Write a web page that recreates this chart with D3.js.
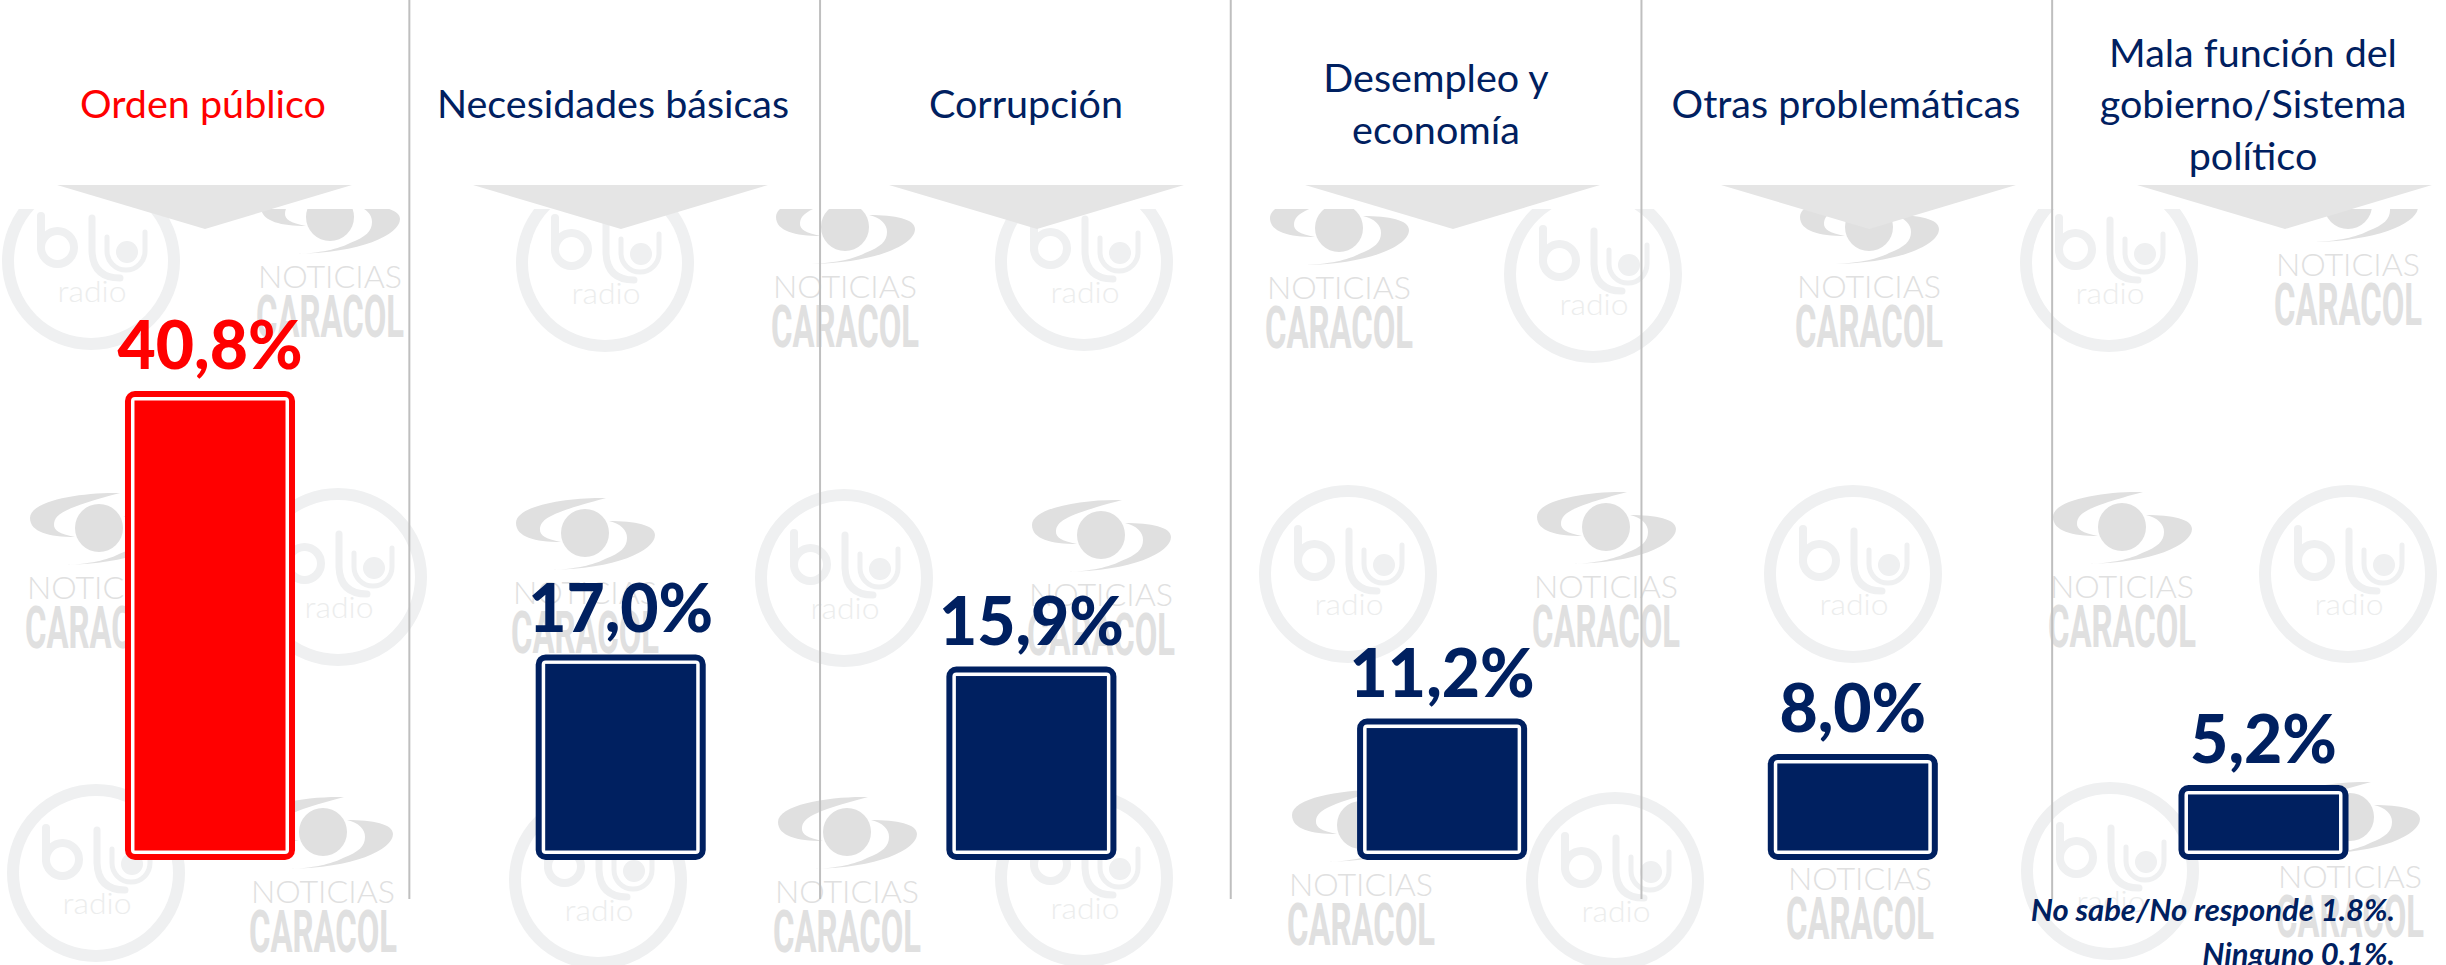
<!DOCTYPE html>
<html>
<head>
<meta charset="utf-8">
<script src="https://cdn.jsdelivr.net/npm/d3@7/dist/d3.min.js"></script>
<style>
html, body { margin: 0; padding: 0; background: #fff; overflow: hidden; }
svg { display: block; }
text { font-family: Lato, Carlito, sans-serif; }
</style>
</head>
<body>
<script>
// chart values
var categories = ['Orden público', 'Necesidades básicas', 'Corrupción', 'Desempleo y economía', 'Otras problemáticas', 'Mala función del gobierno/Sistema político']
var headerLines = [['Orden público'], ['Necesidades básicas'], ['Corrupción'], ['Desempleo y', 'economía'], ['Otras problemáticas'], ['Mala función del', 'gobierno/Sistema', 'político']]
var values = [40.8, 17.0, 15.9, 11.2, 8.0, 5.2]
var notes = ['No sabe/No responde 1.8%.', 'Ninguno 0.1%.']

// watermark logo spots
var bluSpots = [[91, 261], [605, 263], [1084, 262], [1593, 274], [2109, 263], [338, 577], [844, 578], [1348, 574], [1853, 574], [2348, 574], [96, 873], [598, 880], [1084, 878], [1615, 881], [2110, 871]]
var caracolSpots = [[330, 337], [845, 347], [1339, 348], [1869, 347], [2348, 325], [99, 648], [585, 653], [1101, 655], [1606, 647], [2122, 647], [323, 952], [847, 952], [1361, 945], [1860, 939], [2350, 937]]

var W = 2446, H = 965
var NAVY = '#002060', RED = '#ff0000', BOTTOM = 860

var d = d3.select('body').append('svg').attr('width', W).attr('height', H)

var x = d3.scaleBand().domain(categories).range([4.65, 2468.85]).paddingInner(0.586).paddingOuter(0.293)
// the bars run on past the zero line down to BOTTOM
var y = d3.scaleLinear().domain([0, 40.8]).range([842.5, 391])
var color = function (i) { return i === 0 ? RED : NAVY }
var step = x.step()

// logos sit under everything and get cut off below the header area
d.append('clipPath').attr('id', 'wm').append('rect').attr('x', 0).attr('y', 209).attr('width', W).attr('height', H)
var wm = d.append('g').attr('clip-path', 'url(#wm)')

function blu(g) {
    var c = '#eff0f1'
    g.append('circle').attr('r', 83).attr('fill', 'none').attr('stroke', c).attr('stroke-width', 12)
    g.append('path').attr('d', 'M-50,-45 L-50,-13').attr('fill', 'none').attr('stroke', c).attr('stroke-width', 8).attr('stroke-linecap', 'round')
    g.append('circle').attr('cx', -33.5).attr('cy', -13.5).attr('r', 16.5).attr('fill', 'none').attr('stroke', c).attr('stroke-width', 8)
    g.append('path').attr('d', 'M1,-43 L1,-10 Q2,17 29,17').attr('fill', 'none').attr('stroke', c).attr('stroke-width', 7).attr('stroke-linecap', 'round')
    g.append('path').attr('d', 'M16,-24 L16,-10 A19,19 0 0 0 54,-10 L54,-29').attr('fill', 'none').attr('stroke', c).attr('stroke-width', 5).attr('stroke-linecap', 'round')
    g.append('circle').attr('cx', 36).attr('cy', -9).attr('r', 11).attr('fill', c)
    g.append('text').attr('x', 1).attr('y', 41).attr('text-anchor', 'middle').attr('font-size', 30).attr('font-weight', 300).attr('fill', '#eceded')
        .attr('textLength', 69).attr('lengthAdjust', 'spacingAndGlyphs').text('radio')
}

function caracol(g) {
    var c = '#e0e0e0'
    // origin is the bottom of the CARACOL word
    var eye = g.append('g').attr('transform', 'translate(0,-120)')
    eye.append('ellipse').attr('rx', 24).attr('ry', 24).attr('fill', c)
    eye.append('path').attr('d', 'M21,-35 C-15,-36 -69,-28 -69,-10 C-69,4 -50,9 -24,9 C-40,6 -45,2 -45,-3 C-45,-14 -35,-20 21,-35 Z').attr('fill', c)
    eye.append('path').attr('d', 'M24,-12 C50,-12 70,-8 70,2 C70,18 30,36 -34,37 C-5,36 13,30 20,26 C36,20 42,14 42,5 C42,-3 36,-9 24,-12 Z').attr('fill', c)
    g.append('text').attr('y', -49).attr('text-anchor', 'middle').attr('font-size', 32).attr('font-weight', 300).attr('fill', c)
        .attr('textLength', 144).attr('lengthAdjust', 'spacingAndGlyphs').text('NOTICIAS')
    g.append('text').attr('y', 0).attr('text-anchor', 'middle').attr('font-size', 59).attr('font-weight', 700).attr('fill', c)
        .style('font-family', 'Roboto').attr('textLength', 148).attr('lengthAdjust', 'spacingAndGlyphs').text('CARACOL')
}

wm.selectAll('g.blu').data(bluSpots).join('g').attr('class', 'blu')
    .attr('transform', function (s) { return `translate(${s[0]},${s[1]})` })
    .each(function () { blu(d3.select(this)) })
wm.selectAll('g.caracol').data(caracolSpots).join('g').attr('class', 'caracol')
    .attr('transform', function (s) { return `translate(${s[0]},${s[1]})` })
    .each(function () { caracol(d3.select(this)) })

// grey arrow under each header
d.selectAll('path.arrow').data(categories).join('path').attr('class', 'arrow')
    .attr('d', function (c, i) {
        var cx = 205 + i * 416
        return d3.line()([[cx - 148, 185], [cx + 147, 185], [cx, 229]]) + 'Z'
    })
    .attr('fill', '#e5e5e5')

// column separators
d.selectAll('line.sep').data(categories.slice(1)).join('line').attr('class', 'sep')
    .attr('x1', function (c) { return x(c) + x.bandwidth() / 2 - step / 2 - 6 })
    .attr('x2', function (c) { return x(c) + x.bandwidth() / 2 - step / 2 - 6 })
    .attr('y1', 0).attr('y2', 899)
    .attr('stroke', '#bfbfbf').attr('stroke-width', 2)

// bars: outer outline, white gap, solid core
var bars = d.selectAll('g.bar').data(categories).join('g').attr('class', 'bar')
bars.append('rect')
    .attr('x', function (c) { return x(c) + 3 })
    .attr('y', function (c, i) { return y(values[i]) + 3 })
    .attr('width', x.bandwidth() - 6)
    .attr('height', function (c, i) { return BOTTOM - y(values[i]) - 6 })
    .attr('rx', 7)
    .attr('fill', '#fff')
    .attr('stroke', function (c, i) { return color(i) })
    .attr('stroke-width', 6)
bars.append('rect')
    .attr('x', function (c) { return x(c) + 9.5 })
    .attr('y', function (c, i) { return y(values[i]) + 9.5 })
    .attr('width', x.bandwidth() - 19)
    .attr('height', function (c, i) { return BOTTOM - y(values[i]) - 19 })
    .attr('fill', function (c, i) { return color(i) })

// value labels
d.selectAll('text.value').data(categories).join('text').attr('class', 'value')
    .attr('x', function (c) { return x(c) + x.bandwidth() / 2 })
    .attr('y', function (c, i) { return y(values[i]) - 22 })
    .attr('text-anchor', 'middle')
    .attr('font-size', 66).attr('font-weight', 900)
    .attr('fill', function (c, i) { return color(i) })
    .text(function (c, i) { return values[i].toFixed(1).replace('.', ',') + '%' })

// column headers, centred on the middle line
var head = d.selectAll('text.head').data(headerLines).join('text').attr('class', 'head')
    .attr('text-anchor', 'middle')
    .attr('font-size', 39.5)
    .attr('fill', function (l, i) { return color(i) })
head.each(function (lines, i) {
    var t = d3.select(this)
    lines.forEach(function (s, j) {
        t.append('tspan')
            .attr('x', 203 + i * 410 + (i === 2 || i === 3 || i === 4 ? 3 : 0))
            .attr('y', 118 + (j - (lines.length - 1) / 2) * 51.5)
            .text(s)
    })
})

// footnotes
d.selectAll('text.note').data(notes).join('text').attr('class', 'note')
    .attr('x', 2395)
    .attr('y', function (n, i) { return 921 + i * 44 })
    .attr('text-anchor', 'end')
    .attr('font-size', 31).attr('font-weight', 700).attr('font-style', 'italic')
    .attr('fill', NAVY)
    .text(function (n) { return n })
</script>
</body>
</html>
